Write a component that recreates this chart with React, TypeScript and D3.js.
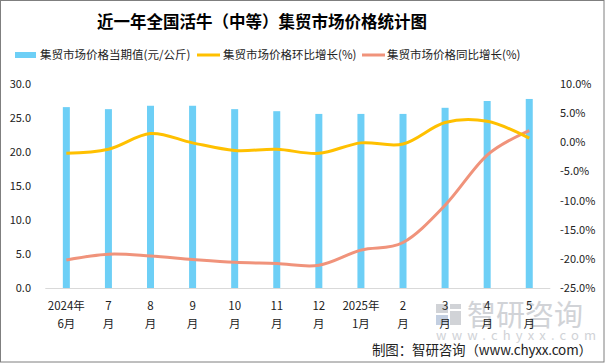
import React, { useEffect } from "react";
import * as d3 from "d3";

const categories = ["2024年|6月", "7|月", "8|月", "9|月", "10|月", "11|月", "12|月", "2025年|1月", "2|月", "3|月", "4|月", "5|月"];
const priceValues = [26.6, 26.3, 26.8, 26.8, 26.3, 26.0, 25.6, 25.6, 25.6, 26.5, 27.5, 27.8];
const momValues = [-1.9, -1.2, 1.5, -0.1, -1.4, -1.2, -1.9, -0.1, -0.3, 3.4, 3.6, 0.7];
const yoyValues = [-20.2, -19.2, -19.5, -20.1, -20.6, -20.8, -21.1, -18.5, -17.2, -10.8, -2.2, 2.0];
const leftTicks = [0, 5, 10, 15, 20, 25, 30];
const rightTicks = [-25, -20, -15, -10, -5, 0, 5, 10];

const W = 605, H = 363;
const plotLeft = 45.3, plotRight = 550.3, plotTop = 84, plotBottom = 288;
const font = "'Microsoft YaHei', 'Noto Sans CJK SC', sans-serif";

export default function App() {
  useEffect(() => {
    document.body.style.margin = "0";
  }, []);

  const x = d3.scaleBand<string>().domain(categories).range([plotLeft, plotRight]).paddingInner(0).paddingOuter(0);
  const yL = d3.scaleLinear().domain([0, 30]).range([plotBottom, plotTop]);
  const yR = d3.scaleLinear().domain([-25, 10]).range([plotBottom, plotTop]);
  const cx = (c: string) => (x(c) as number) + x.bandwidth() / 2;
  const barW = 7;

  const lineGen = d3
    .line<number>()
    .x((_, i) => cx(categories[i]))
    .y((d) => yR(d))
    .curve(d3.curveCardinal.tension(0));

  return (
    <svg width={W} height={H} style={{ display: "block" }} fontFamily={font}>
      <rect x={0.5} y={0.5} width={W - 1.5} height={H - 1.5} fill="#fff" stroke="#7f7f7f" strokeWidth={1} />
      <text x={262} y={28} textAnchor="middle" fontSize={16.5} fontWeight="bold" fill="#000">
        近一年全国活牛（中等）集贸市场价格统计图
      </text>
      {/* legend */}
      <g fontSize={11.5} fill="#222">
        <rect x={15} y={52} width={21} height={6} fill="#6dcff6" />
        <text x={40} y={59}>集贸市场价格当期值(元/公斤)</text>
        <line x1={197} x2={220} y1={55} y2={55} stroke="#ffc000" strokeWidth={3} />
        <text x={223} y={59}>集贸市场价格环比增长(%)</text>
        <line x1={362} x2={385} y1={55} y2={55} stroke="#f0937b" strokeWidth={3} />
        <text x={387} y={59}>集贸市场价格同比增长(%)</text>
      </g>
      {/* watermark */}
      <g fill="#c9ccd1" opacity={0.85}>
        <rect x={436} y={304} width={12} height={9} />
        <rect x={450} y={304} width={11} height={5} />
        <rect x={436} y={315} width={12} height={10} fill="#b9c7dc" />
        <rect x={450} y={311} width={11} height={14} />
        <text x={467} y={326} fontSize={29}>智研咨询</text>
        <text x={436} y={340} fontSize={13} letterSpacing={5.2}>www.chyxx.com</text>
      </g>
      {/* axis line */}
      <line x1={plotLeft} x2={plotRight} y1={plotBottom + 0.5} y2={plotBottom + 0.5} stroke="#d9d9d9" strokeWidth={1} />
      {/* bars */}
      {priceValues.map((v, i) => (
        <rect key={i} x={cx(categories[i]) - barW / 2} y={yL(v)} width={barW} height={plotBottom - yL(v)} fill="#6dcff6" />
      ))}
      <path d={lineGen(yoyValues) || ""} fill="none" stroke="#f0937b" strokeWidth={3} />
      <path d={lineGen(momValues) || ""} fill="none" stroke="#ffc000" strokeWidth={3} />
      {/* left ticks */}
      <g fontSize={11} fill="#222" textAnchor="end">
        {leftTicks.map((t) => (
          <text key={t} x={31} y={yL(t) + 4}>
            {t.toFixed(1)}
          </text>
        ))}
      </g>
      <g fontSize={11} fill="#222" textAnchor="start">
        {rightTicks.map((t) => (
          <text key={t} x={560} y={yR(t) + 4}>
            {t.toFixed(1) + "%"}
          </text>
        ))}
      </g>
      {/* x labels */}
      <g fontSize={11.5} fill="#222" textAnchor="middle">
        {categories.map((c) => {
          const [a, b] = c.split("|");
          return (
            <g key={c}>
              <text x={cx(c)} y={310}>{a}</text>
              <text x={cx(c)} y={328}>{b}</text>
            </g>
          );
        })}
      </g>
      <text x={372} y={355} fontSize={13.5} fill="#222" textLength={220} lengthAdjust="spacing">
        制图：智研咨询（www.chyxx.com）
      </text>
    </svg>
  );
}
